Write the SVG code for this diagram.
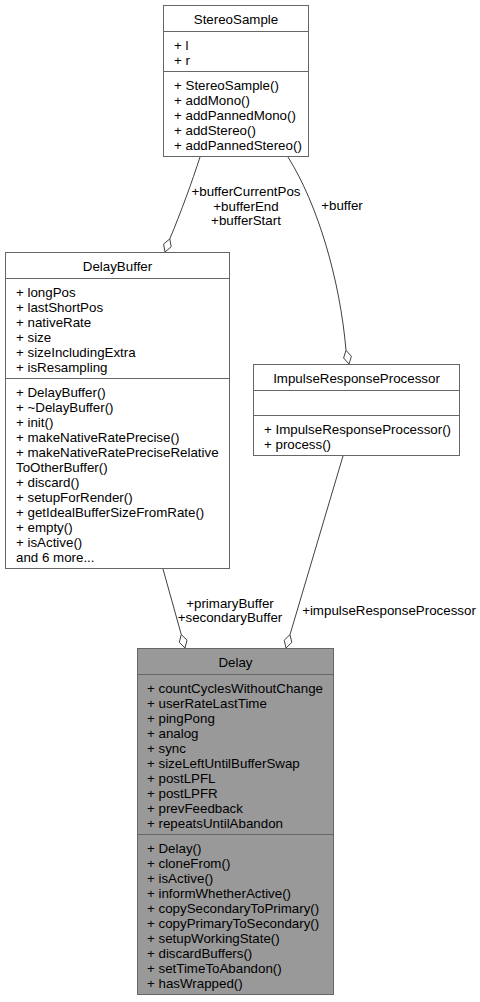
<svg xmlns="http://www.w3.org/2000/svg" width="480" height="1002" viewBox="0 0 480 1002">
<style>
.t{font-family:"Liberation Sans",Arial,Helvetica,sans-serif;font-size:13.33px;fill:#000}
.c{text-anchor:middle}
.box{fill:#fff;stroke:#666;stroke-width:1}
.focus{fill:#999;stroke:#666;stroke-width:1}
.sep{stroke:#666;stroke-width:1}
.edge{fill:none;stroke:#404040;stroke-width:1}
.dia{fill:#fff;stroke:#404040;stroke-width:1}
</style>
<rect width="480" height="1002" fill="#fff"/>
<g id="connectors">
  <path class="edge" d="M200,157 C192,182 181,212 169.8,238.9"/>
  <polygon class="dia" points="165,252 163.6,244 169.8,238.9 171.2,246.8"/>
  <path class="edge" d="M288,157 C318,205 340,280 346,350.3"/>
  <polygon class="dia" points="349,364 343.6,358 346,350.3 351.4,356.3"/>
  <path class="edge" d="M163,569 L181.25,634.5"/>
  <polygon class="dia" points="185,648 179.3,642.3 181.25,634.5 187,640.2"/>
  <path class="edge" d="M343,456 L290,634.6"/>
  <polygon class="dia" points="286,648 284.2,640.2 290,634.6 291.8,642.4"/>
  <text class="t c" x="246" y="196">+bufferCurrentPos</text>
  <text class="t c" x="246" y="210.5">+bufferEnd</text>
  <text class="t c" x="246" y="225">+bufferStart</text>
  <text class="t c" x="342" y="210">+buffer</text>
  <text class="t c" x="230" y="607.5">+primaryBuffer</text>
  <text class="t c" x="230" y="622">+secondaryBuffer</text>
  <text class="t c" x="389" y="615">+impulseResponseProcessor</text>
</g>
<g id="StereoSample">
  <rect class="box" x="163.5" y="5.5" width="145" height="151"/>
  <line class="sep" x1="163.5" y1="31.5" x2="308.5" y2="31.5"/>
  <line class="sep" x1="163.5" y1="71.5" x2="308.5" y2="71.5"/>
  <text class="t c" x="236" y="23.5">StereoSample</text>
  <text class="t" x="174" y="49.5">+ l</text>
  <text class="t" x="174" y="64.5">+ r</text>
  <text class="t" x="174" y="89.5">+ StereoSample()</text>
  <text class="t" x="174" y="104.5">+ addMono()</text>
  <text class="t" x="174" y="119.5">+ addPannedMono()</text>
  <text class="t" x="174" y="134.5">+ addStereo()</text>
  <text class="t" x="174" y="149.5">+ addPannedStereo()</text>
</g>
<g id="DelayBuffer">
  <rect class="box" x="5.5" y="252.5" width="224" height="316"/>
  <line class="sep" x1="5.5" y1="278.5" x2="229.5" y2="278.5"/>
  <line class="sep" x1="5.5" y1="378.5" x2="229.5" y2="378.5"/>
  <text class="t c" x="117.5" y="270.5">DelayBuffer</text>
  <text class="t" x="16" y="296.5">+ longPos</text>
  <text class="t" x="16" y="311.5">+ lastShortPos</text>
  <text class="t" x="16" y="326.5">+ nativeRate</text>
  <text class="t" x="16" y="341.5">+ size</text>
  <text class="t" x="16" y="356.5">+ sizeIncludingExtra</text>
  <text class="t" x="16" y="371.5">+ isResampling</text>
  <text class="t" x="16" y="396.5">+ DelayBuffer()</text>
  <text class="t" x="16" y="411.5">+ ~DelayBuffer()</text>
  <text class="t" x="16" y="426.5">+ init()</text>
  <text class="t" x="16" y="441.5">+ makeNativeRatePrecise()</text>
  <text class="t" x="16" y="456.5">+ makeNativeRatePreciseRelative</text>
  <text class="t" x="16" y="471.5">ToOtherBuffer()</text>
  <text class="t" x="16" y="486.5">+ discard()</text>
  <text class="t" x="16" y="501.5">+ setupForRender()</text>
  <text class="t" x="16" y="516.5">+ getIdealBufferSizeFromRate()</text>
  <text class="t" x="16" y="531.5">+ empty()</text>
  <text class="t" x="16" y="546.5">+ isActive()</text>
  <text class="t" x="16" y="561.5">and 6 more...</text>
</g>
<g id="ImpulseResponseProcessor">
  <rect class="box" x="253.5" y="364.5" width="206" height="91"/>
  <line class="sep" x1="253.5" y1="390.5" x2="459.5" y2="390.5"/>
  <line class="sep" x1="253.5" y1="415.5" x2="459.5" y2="415.5"/>
  <text class="t c" x="356.5" y="382.5">ImpulseResponseProcessor</text>
  <text class="t" x="264" y="433.5">+ ImpulseResponseProcessor()</text>
  <text class="t" x="264" y="448.5">+ process()</text>
</g>
<g id="Delay">
  <rect class="focus" x="137.5" y="648.5" width="196" height="346"/>
  <line class="sep" x1="137.5" y1="674.5" x2="333.5" y2="674.5"/>
  <line class="sep" x1="137.5" y1="834.5" x2="333.5" y2="834.5"/>
  <text class="t c" x="235.5" y="666.5">Delay</text>
  <text class="t" x="147" y="692.5">+ countCyclesWithoutChange</text>
  <text class="t" x="147" y="707.5">+ userRateLastTime</text>
  <text class="t" x="147" y="722.5">+ pingPong</text>
  <text class="t" x="147" y="737.5">+ analog</text>
  <text class="t" x="147" y="752.5">+ sync</text>
  <text class="t" x="147" y="767.5">+ sizeLeftUntilBufferSwap</text>
  <text class="t" x="147" y="782.5">+ postLPFL</text>
  <text class="t" x="147" y="797.5">+ postLPFR</text>
  <text class="t" x="147" y="812.5">+ prevFeedback</text>
  <text class="t" x="147" y="827.5">+ repeatsUntilAbandon</text>
  <text class="t" x="147" y="852.5">+ Delay()</text>
  <text class="t" x="147" y="867.5">+ cloneFrom()</text>
  <text class="t" x="147" y="882.5">+ isActive()</text>
  <text class="t" x="147" y="897.5">+ informWhetherActive()</text>
  <text class="t" x="147" y="912.5">+ copySecondaryToPrimary()</text>
  <text class="t" x="147" y="927.5">+ copyPrimaryToSecondary()</text>
  <text class="t" x="147" y="942.5">+ setupWorkingState()</text>
  <text class="t" x="147" y="957.5">+ discardBuffers()</text>
  <text class="t" x="147" y="972.5">+ setTimeToAbandon()</text>
  <text class="t" x="147" y="987.5">+ hasWrapped()</text>
</g>
</svg>
